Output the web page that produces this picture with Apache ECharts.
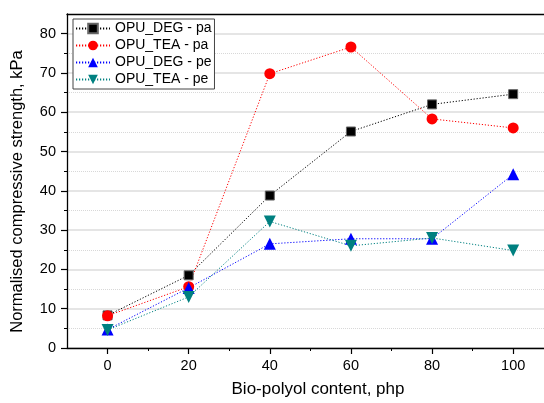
<!DOCTYPE html>
<html><head><meta charset="utf-8">
<script src="https://cdn.jsdelivr.net/npm/echarts@6/dist/echarts.min.js"></script>
<style>html,body{margin:0;padding:0;background:#fff}#c{width:544px;height:403px}</style>
</head><body><div id="c"></div>
<script>
const xValues = [0, 20, 40, 60, 80, 100];
const degPa = [8.3, 18.5, 38.8, 55.1, 62.0, 64.6];
const teaPa = [8.2, 15.6, 69.8, 76.6, 58.3, 56.0];
const degPe = [4.7, 15.3, 26.5, 27.8, 27.8, 44.2];
const teaPe = [4.6, 13.0, 32.2, 26.0, 28.0, 24.8];
const seriesNames = ['OPU_DEG - pa', 'OPU_TEA - pa', 'OPU_DEG - pe', 'OPU_TEA - pe'];
const xTickLabels = [0, 20, 40, 60, 80, 100];
const xMinorTicks = [10, 30, 50, 70, 90];
const yTickLabels = [0, 10, 20, 30, 40, 50, 60, 70, 80];

const font = '"Liberation Sans", Arial, sans-serif';
const pairs = a => xValues.map((x, i) => [x, a[i]]);
const downTri = 'path://M0,0 L10,0 L5,9 Z';
const X_MIN = -10, X_MAX = 107.6;

function mk(name, data, color, symbol, size, borderColor) {
  return {
    name, type: 'line', data: pairs(data), xAxisIndex: 0, yAxisIndex: 0,
    symbol, symbolSize: size, showSymbol: true,
    lineStyle: { color, width: 1, type: [1.2, 1.8] },
    itemStyle: { color, borderColor: borderColor || color, borderWidth: borderColor ? 1 : 0, opacity: 1 },
    emphasis: { disabled: true }, animation: false, z: 3
  };
}

const chart = echarts.init(document.getElementById('c'));
chart.setOption({
  animation: false,
  textStyle: { fontFamily: font, color: '#000' },
  grid: { left: 67, right: 0, top: 14, bottom: 51, show: false },
  legend: {
    orient: 'vertical', left: 73, top: 19,
    data: seriesNames,
    backgroundColor: '#fff', borderColor: '#444', borderWidth: 1,
    padding: [2, 3, 2, 2], itemGap: 2, itemWidth: 34, itemHeight: 12,
    textStyle: { fontFamily: font, fontSize: 14, color: '#000', lineHeight: 15 }
  },
  xAxis: [{
    type: 'value', min: X_MIN, max: X_MAX, position: 'bottom',
    name: 'Bio-polyol content, php', nameLocation: 'middle', nameGap: 33,
    nameTextStyle: { fontFamily: font, fontSize: 17, color: '#000', padding: [0, 0, 0, 25] },
    axisLine: { show: true, onZero: false, lineStyle: { color: '#000', width: 1.3 } },
    axisTick: { show: true, inside: false, length: 6, customValues: xTickLabels, lineStyle: { color: '#000', width: 1.2 } },
    axisLabel: { customValues: xTickLabels, fontFamily: font, fontSize: 14.5, color: '#000', margin: 10 },
    splitLine: { show: false }
  }, {
    type: 'value', min: X_MIN, max: X_MAX, position: 'bottom',
    axisLine: { show: false, onZero: false },
    axisTick: { show: true, inside: false, length: 3, customValues: xMinorTicks, lineStyle: { color: '#000', width: 1 } },
    axisLabel: { show: false }, splitLine: { show: false }
  }, {
    type: 'value', min: X_MIN, max: X_MAX, position: 'top',
    axisLine: { show: true, onZero: false, lineStyle: { color: '#000', width: 1.3 } },
    axisTick: { show: false }, axisLabel: { show: false }, splitLine: { show: false }
  }],
  yAxis: [{
    type: 'value', min: 0, max: 85, interval: 10,
    name: 'Normalised compressive strength, kPa', nameLocation: 'middle', nameGap: 41, nameRotate: 90,
    nameTextStyle: { fontFamily: font, fontSize: 16.5, color: '#000', padding: [0, 21, 0, 0] },
    axisLine: { show: true, onZero: false, lineStyle: { color: '#000', width: 1.3 } },
    axisTick: { show: true, inside: false, length: 6, customValues: yTickLabels, lineStyle: { color: '#000', width: 1.2 } },
    minorTick: { show: true, splitNumber: 2, length: 3, lineStyle: { color: '#000', width: 1 } },
    axisLabel: { customValues: yTickLabels, fontFamily: font, fontSize: 14.5, color: '#000', margin: 11 },
    splitLine: { show: true, lineStyle: { color: '#dcdcdc', width: 1.5, type: 'solid' } },
    minorSplitLine: { show: true, lineStyle: { color: '#d8d8d8', width: 1, type: [1, 1] } }
  }],
  series: [
    mk(seriesNames[0], degPa, '#000000', 'rect', 9, '#666'),
    mk(seriesNames[1], teaPa, '#ff0000', 'circle', 11),
    mk(seriesNames[2], degPe, '#0000ff', 'triangle', 12),
    mk(seriesNames[3], teaPe, '#008080', downTri, 12)
  ]
});
</script></body></html>
